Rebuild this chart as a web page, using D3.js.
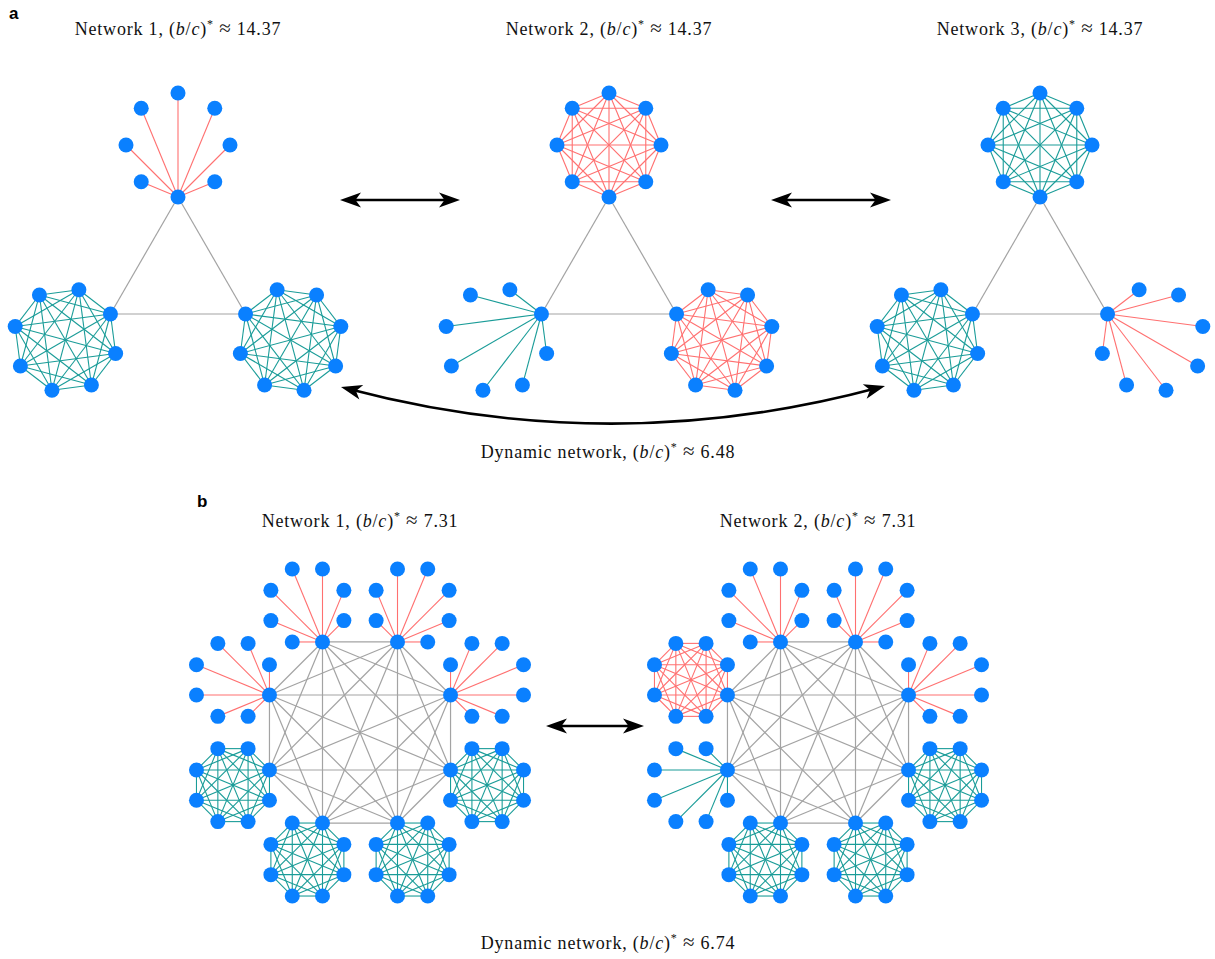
<!DOCTYPE html>
<html>
<head>
<meta charset="utf-8">
<script src="https://cdn.jsdelivr.net/npm/d3@7"></script>
<style>
  html, body { margin: 0; padding: 0; background: #fff; }
  svg { display: block; }
  .title { font-family: "Liberation Serif", serif; font-size: 18px; letter-spacing: 0.8px; fill: #111; }
  .panel { font-family: "Liberation Sans", Arial, sans-serif; font-weight: bold; font-size: 17px; fill: #000; }
</style>
</head>
<body>
<svg id="chart" width="1215" height="959"></svg>
<script>
// ---- Panel a: three static networks built from three hubs ----
const aNetworks = ["Network 1", "Network 2", "Network 3"];
const aRatios = [14.37, 14.37, 14.37];
const aDynamicRatio = 6.48;
// hub order: top, bottom-left, bottom-right
const aHubAngles = [-90, 150, 30];
const aClusterTypes = [
  ["star", "clique", "clique"],
  ["clique", "star", "clique"],
  ["clique", "clique", "star"]
];
const aClusterColors = [
  ["red", "teal", "teal"],
  ["red", "teal", "red"],
  ["teal", "teal", "red"]
];

// ---- Panel b: two static networks built from eight hubs ----
const bNetworks = ["Network 1", "Network 2"];
const bRatios = [7.31, 7.31];
const bDynamicRatio = 6.74;
// hub order: clockwise from the upper-left hub
const bHubAngles = [-112.5, -67.5, -22.5, 22.5, 67.5, 112.5, 157.5, 202.5];
const bClusterTypes = [
  ["star", "star", "star", "clique", "clique", "clique", "clique", "star"],
  ["star", "star", "star", "clique", "clique", "clique", "star", "clique"]
];
const bClusterColors = [
  ["red", "red", "red", "teal", "teal", "teal", "teal", "red"],
  ["red", "red", "red", "teal", "teal", "teal", "teal", "red"]
];

const clusterSize = 8; // hub plus seven others

const palette = { red: "#ff7070", teal: "#1a9c98", hub: "#a3a3a3", node: "#0a80ff" };
const NODE_R = 7.5;

const svg = d3.select("#chart");
const rad = d => d * Math.PI / 180;

// Build nodes/edges for one network: hubs on a ring, each hub carrying an octagonal cluster
function buildNetwork(cx, cy, ringR, clusterR, hubAngles, types, colors) {
  const nodes = [], hubEdges = [], clusterEdges = [];
  const hubs = hubAngles.map(a => ({ x: cx + ringR * Math.cos(rad(a)), y: cy + ringR * Math.sin(rad(a)) }));
  hubs.forEach((h, i) => {
    const a = hubAngles[i];
    const ccx = h.x + clusterR * Math.cos(rad(a));
    const ccy = h.y + clusterR * Math.sin(rad(a));
    const pts = d3.range(clusterSize).map(k => {
      const ang = rad(a + 180 + k * 45);
      return k === 0 ? h : { x: ccx + clusterR * Math.cos(ang), y: ccy + clusterR * Math.sin(ang) };
    });
    pts.forEach(p => nodes.push(p));
    const col = palette[colors[i]];
    if (types[i] === "star") {
      pts.slice(1).forEach(p => clusterEdges.push({ s: h, t: p, c: col }));
    } else {
      for (let u = 0; u < pts.length; u++)
        for (let v = u + 1; v < pts.length; v++)
          clusterEdges.push({ s: pts[u], t: pts[v], c: col });
    }
  });
  for (let u = 0; u < hubs.length; u++)
    for (let v = u + 1; v < hubs.length; v++)
      hubEdges.push({ s: hubs[u], t: hubs[v] });
  return { nodes, hubEdges, clusterEdges };
}

function drawNetwork(g, net) {
  g.append("g").selectAll("line").data(net.hubEdges).join("line")
    .attr("x1", d => d.s.x).attr("y1", d => d.s.y)
    .attr("x2", d => d.t.x).attr("y2", d => d.t.y)
    .attr("stroke", palette.hub).attr("stroke-width", 1.2);
  g.append("g").selectAll("line").data(net.clusterEdges).join("line")
    .attr("x1", d => d.s.x).attr("y1", d => d.s.y)
    .attr("x2", d => d.t.x).attr("y2", d => d.t.y)
    .attr("stroke", d => d.c).attr("stroke-width", 1.1);
  g.append("g").selectAll("circle").data(net.nodes).join("circle")
    .attr("cx", d => d.x).attr("cy", d => d.y).attr("r", NODE_R)
    .attr("fill", palette.node);
}

function title(x, y, label, value) {
  const t = svg.append("text").attr("class", "title").attr("x", x).attr("y", y).attr("text-anchor", "middle");
  t.append("tspan").text(label + ", (");
  t.append("tspan").attr("font-style", "italic").text("b");
  t.append("tspan").text("/");
  t.append("tspan").attr("font-style", "italic").text("c");
  t.append("tspan").text(")");
  t.append("tspan").attr("font-size", "12px").attr("dy", -7).text("*");
  t.append("tspan").attr("dy", 7).text(" ");
  t.append("tspan").attr("font-size", "21px").text("\u2248");
  t.append("tspan").text(" " + value.toFixed(2));
}

// Arrowhead marker
const defs = svg.append("defs");
defs.append("marker")
  .attr("id", "head").attr("markerUnits", "userSpaceOnUse")
  .attr("viewBox", "-2 -9 26 18").attr("markerWidth", 26).attr("markerHeight", 18)
  .attr("refX", 14).attr("refY", 0).attr("orient", "auto-start-reverse")
  .append("path").attr("d", "M0,-7.5 L21,0 L0,7.5 L5.5,0 Z").attr("fill", "#000");

function arrowLine(x1, y1, x2, y2) {
  svg.append("line").attr("x1", x1 + 7).attr("y1", y1).attr("x2", x2 - 7).attr("y2", y2)
    .attr("stroke", "#000").attr("stroke-width", 2.6)
    .attr("marker-start", "url(#head)").attr("marker-end", "url(#head)");
}
function arrowCurve(p0, c, p2) {
  const shift = (p, q, d) => { const dx = q[0] - p[0], dy = q[1] - p[1], L = Math.hypot(dx, dy); return [p[0] + dx / L * d, p[1] + dy / L * d]; };
  const a = shift(p0, c, 7), b = shift(p2, c, 7);
  const path = d3.path();
  path.moveTo(a[0], a[1]);
  path.quadraticCurveTo(c[0], c[1], b[0], b[1]);
  svg.append("path").attr("d", path.toString()).attr("fill", "none")
    .attr("stroke", "#000").attr("stroke-width", 2.6)
    .attr("marker-start", "url(#head)").attr("marker-end", "url(#head)");
}

// ---- Panel a ----
const ax = d3.scalePoint().domain(aNetworks).range([178, 1040]);
const aCy = 275;
aNetworks.forEach((name, i) => {
  const net = buildNetwork(ax(name), aCy, 78, 52, aHubAngles, aClusterTypes[i], aClusterColors[i]);
  drawNetwork(svg.append("g"), net);
  title(ax(name), 35, name, aRatios[i]);
});
arrowLine(340, 200, 460, 200);
arrowLine(771, 200, 891, 200);
arrowCurve([341, 387], [613, 459], [885, 386]);
title(608, 458, "Dynamic network", aDynamicRatio);

// ---- Panel b ----
const bx = d3.scalePoint().domain(bNetworks).range([360, 818]);
const bCy = 732.5;
bNetworks.forEach((name, i) => {
  const net = buildNetwork(bx(name), bCy, 98, 39.5, bHubAngles, bClusterTypes[i], bClusterColors[i]);
  drawNetwork(svg.append("g"), net);
  title(bx(name), 527, name, bRatios[i]);
});
arrowLine(546, 726, 644, 726);
title(608, 949, "Dynamic network", bDynamicRatio);

// Panel letters
svg.append("text").attr("class", "panel").attr("x", 9).attr("y", 19).text("a");
svg.append("text").attr("class", "panel").attr("x", 197).attr("y", 507).text("b");
</script>
</body>
</html>
